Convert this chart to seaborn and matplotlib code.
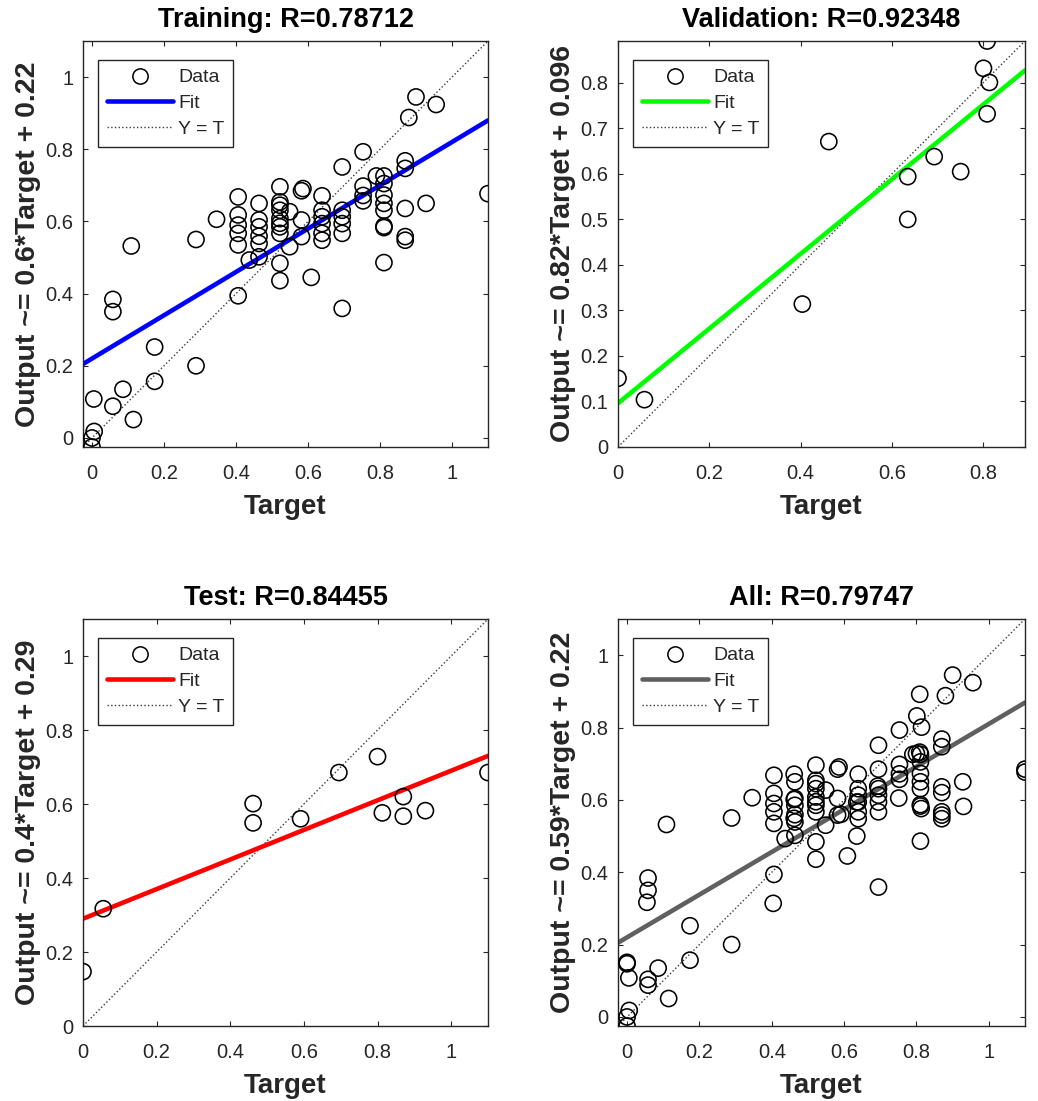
import numpy as np
import pandas as pd
import matplotlib
matplotlib.use("Agg")
import matplotlib.pyplot as plt
import seaborn as sns
from matplotlib.lines import Line2D

# ---------------- data ----------------
train_target = [0.900, 0.956, 0.880, 0.753, 0.695, 0.870, 0.870, 0.790, 0.811, 0.811,
                0.753, 0.753, 0.753, 0.811, 0.811, 0.811, 0.811, 0.811, 0.870, 0.928,
                0.870, 0.870, 0.811, 1.100, 0.639, 0.639, 0.639, 0.639, 0.639, 0.639,
                0.695, 0.695, 0.695, 0.695, 0.695, 0.586, 0.582, 0.582, 0.582, 0.609,
                0.522, 0.522, 0.522, 0.522, 0.522, 0.522, 0.522, 0.522, 0.522, 0.522,
                0.549, 0.549, 0.464, 0.464, 0.464, 0.464, 0.464, 0.464, 0.437, 0.406,
                0.406, 0.406, 0.406, 0.406, 0.406, 0.346, 0.289, 0.289, 0.109, 0.058,
                0.058, 0.174, 0.174, 0.086, 0.058, 0.005, 0.115, 0.006, 0.000, 0.000]
train_output = [0.945, 0.924, 0.888, 0.793, 0.751, 0.768, 0.747, 0.726, 0.726, 0.705,
                0.698, 0.672, 0.657, 0.673, 0.650, 0.631, 0.587, 0.583, 0.636, 0.650,
                0.558, 0.548, 0.486, 0.677, 0.671, 0.631, 0.613, 0.594, 0.567, 0.548,
                0.631, 0.613, 0.594, 0.567, 0.359, 0.691, 0.685, 0.604, 0.558, 0.445,
                0.696, 0.654, 0.631, 0.608, 0.585, 0.567, 0.484, 0.436, 0.645, 0.595,
                0.627, 0.530, 0.650, 0.604, 0.585, 0.559, 0.539, 0.502, 0.493, 0.668,
                0.618, 0.590, 0.567, 0.535, 0.394, 0.606, 0.550, 0.200, 0.532, 0.384,
                0.350, 0.252, 0.157, 0.135, 0.088, 0.108, 0.051, 0.018, 0.000, -0.025]

val_target = [0.809, 0.801, 0.814, 0.809, 0.462, 0.693, 0.751, 0.635, 0.635, 0.404, 0.000, 0.058]
val_output = [0.892, 0.832, 0.801, 0.732, 0.671, 0.638, 0.605, 0.594, 0.500, 0.314, 0.151, 0.104]

test_target = [0.000, 0.055, 0.462, 0.462, 0.591, 0.695, 0.800, 0.813, 0.870, 0.870, 0.930, 1.100]
test_output = [0.147, 0.317, 0.601, 0.549, 0.560, 0.685, 0.728, 0.576, 0.620, 0.567, 0.582, 0.685]

panel_names = ["Training", "Validation", "Test", "All"]
r_values = [0.78712, 0.92348, 0.84455, 0.79747]
fit_slopes = [0.6, 0.82, 0.4, 0.59]
fit_intercepts = [0.22, 0.096, 0.29, 0.22]
fit_colors = ["#0000ff", "#00ff00", "#ff0000", "#606060"]
legend_labels = ["Data", "Fit", "Y = T"]
xlabel_text = "Target"

# ---------------- styling ----------------
sns.set_theme(style="ticks")
plt.rcParams["font.family"] = ["Liberation Sans", "DejaVu Sans"]
plt.rcParams.update({
    "xtick.direction": "in", "ytick.direction": "in",
    "xtick.top": True, "ytick.right": True,
    "xtick.major.size": 3.5, "ytick.major.size": 3.5,
    "xtick.major.width": 0.8, "ytick.major.width": 0.8,
    "axes.linewidth": 1.0,
    "axes.edgecolor": "#262626",
    "xtick.color": "#262626", "ytick.color": "#262626",
})

frames = {
    "Training": pd.DataFrame({"Target": train_target, "Output": train_output}),
    "Validation": pd.DataFrame({"Target": val_target, "Output": val_output}),
    "Test": pd.DataFrame({"Target": test_target, "Output": test_output}),
}
frames["All"] = pd.concat([frames["Training"], frames["Validation"], frames["Test"]],
                          ignore_index=True)

W, H = 1038, 1101
fig = plt.figure(figsize=(W / 100, H / 100), dpi=100)
fig.patch.set_facecolor("white")

# axes rectangles in pixels: left, top, right, bottom
rects = [(83, 41, 488, 447), (618, 41, 1025, 447),
         (83, 619, 488, 1026), (618, 619, 1025, 1026)]

for i, name in enumerate(panel_names):
    l, t, r, b = rects[i]
    ax = fig.add_axes([l / W, 1 - b / H, (r - l) / W, (b - t) / H])
    df = frames[name]
    lo = min(df["Target"].min(), df["Output"].min())
    hi = max(df["Target"].max(), df["Output"].max())
    lim = np.array([lo, hi])

    # Y = T line
    ax.plot(lim, lim, linestyle=":", color="#3a3a3a", linewidth=1.0, zorder=1)
    # fit line
    sns.lineplot(x=lim, y=fit_slopes[i] * lim + fit_intercepts[i], ax=ax,
                 color=fit_colors[i], linewidth=3.3, zorder=2, legend=False)
    # data
    sns.scatterplot(data=df, x="Target", y="Output", ax=ax, marker="o", s=135,
                    facecolor="none", edgecolor="black", linewidth=1.15,
                    zorder=3, legend=False, clip_on=True)

    ax.set_xlim(lim)
    ax.set_ylim(lim)
    if name == "Validation":
        ax.set_xticks(np.arange(0, 0.81, 0.2))
        ax.set_yticks(np.arange(0, 0.81, 0.1))
    else:
        ax.set_xticks(np.arange(0, 1.01, 0.2))
        ax.set_yticks(np.arange(0, 1.01, 0.2))
    ax.set_xticklabels(["%g" % round(v, 2) for v in ax.get_xticks()])
    ax.set_yticklabels(["%g" % round(v, 2) for v in ax.get_yticks()])
    ax.tick_params(axis="x", labelsize=14.5, pad=12.5, labelcolor="#262626")
    ax.tick_params(axis="y", labelsize=14.5, pad=7, labelcolor="#262626")
    for sp in ax.spines.values():
        sp.set_visible(True)

    ax.set_title("%s: R=%.5f" % (name, r_values[i]), fontsize=19.5,
                 fontweight="bold", pad=10, color="black")
    ax.set_xlabel(xlabel_text, fontsize=20, fontweight="bold", labelpad=8,
                  color="#262626")
    ax.set_ylabel("Output ~= %g*Target + %g" % (fit_slopes[i], fit_intercepts[i]),
                  fontsize=20.5, fontweight="bold", labelpad=3, color="#262626")

    handles = [
        Line2D([], [], linestyle="none", marker="o", markersize=11,
               markerfacecolor="none", markeredgecolor="black", markeredgewidth=1.1),
        Line2D([], [], color=fit_colors[i], linewidth=3.3),
        Line2D([], [], color="#3a3a3a", linestyle=":", linewidth=1.0),
    ]
    leg = ax.legend(handles, legend_labels, loc="upper left",
                    bbox_to_anchor=(0.038, 0.953), fontsize=14,
                    frameon=True, fancybox=False, framealpha=1,
                    edgecolor="#262626", handlelength=3.4, handletextpad=0.25,
                    borderpad=0.45, labelspacing=0.42, borderaxespad=0)
    leg.get_frame().set_linewidth(1.0)

fig.savefig("out.png", dpi=100, facecolor="white")
